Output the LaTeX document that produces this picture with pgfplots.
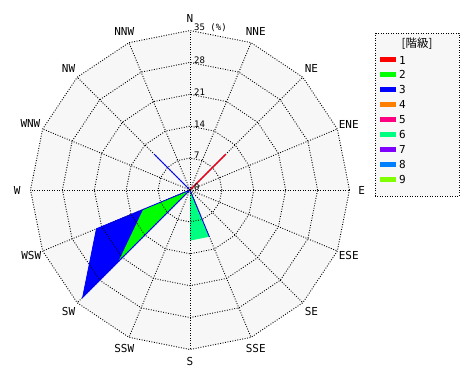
\documentclass[border=0pt]{standalone}
\usepackage{fontspec}
\setmainfont{DejaVu Sans Mono}
\newfontfamily\cjk{Noto Sans CJK JP}
\usepackage{pgfplots}
\usepackage{pgfplotstable}
\pgfplotsset{compat=1.18}
\usepgfplotslibrary{polar}
\usetikzlibrary{calc}
\definecolor{bg}{HTML}{F7F7F7}
\definecolor{c1}{HTML}{FF0000}
\definecolor{c2}{HTML}{00FF00}
\definecolor{c3}{HTML}{0000FF}
\definecolor{c4}{HTML}{FF8000}
\definecolor{c5}{HTML}{FF0080}
\definecolor{c6}{HTML}{00FF80}
\definecolor{c7}{HTML}{8000FF}
\definecolor{c8}{HTML}{0080FF}
\definecolor{c9}{HTML}{80FF00}
% cumulative frequency (%) per direction; angle in degrees (math convention)
% dir: N NNE NE ENE E ESE SE SSE S SSW SW WSW W WNW NW NNW
\pgfplotstableread{
angle  c1     c2     c3     c6
90     0      0      0      0
67.5   0      0      0      0
45     11.11  11.11  11.11  11.11
22.5   0      0      0      0
0      0      0      0      0
337.5  0      0      0      0
315    0      0      0      0
292.5  0      0      11.11  11.11
270    0      0      0      11.11
247.5  0      0      0      0
225    0      22.22  33.33  33.33
202.5  0      11.11  22.22  22.22
180    0      0      0      0
157.5  0      0      0      0
135    0      0      11.11  11.11
112.5  0      0      0      0
}\rose
\tikzset{gridline/.style={black, line width=0.9pt, dash pattern=on 0.9pt off 1.6pt},
  dirlab/.style={font=\fontsize{11}{11}\selectfont, inner sep=0pt},
  ticklab/.style={font=\fontsize{9}{9}\selectfont, inner sep=0pt, anchor=south west, xshift=4pt, yshift=-1pt}}
\begin{document}
\begin{tikzpicture}
\begin{polaraxis}[
  hide axis, scale only axis, width=319pt, height=319pt,
  xmin=0, xmax=360, ymin=0, ymax=35, clip=false]
\coordinate (C) at (axis cs:0,0);
% background
\fill[bg] (axis cs:0,35) -- (axis cs:22.5,35) -- (axis cs:45,35) -- (axis cs:67.5,35) -- (axis cs:90,35) -- (axis cs:112.5,35) -- (axis cs:135,35) -- (axis cs:157.5,35) -- (axis cs:180,35) -- (axis cs:202.5,35) -- (axis cs:225,35) -- (axis cs:247.5,35) -- (axis cs:270,35) -- (axis cs:292.5,35) -- (axis cs:315,35) -- (axis cs:337.5,35) -- cycle;
% fills, classes 9..1 (cumulative)
\addplot[draw=none, fill=c6] table[x=angle, y=c6] {\rose} -- cycle;
\addplot[draw=none, fill=c3] table[x=angle, y=c3] {\rose} -- cycle;
\addplot[draw=none, fill=c2] table[x=angle, y=c2] {\rose} -- cycle;
\addplot[draw=none, fill=c1] table[x=angle, y=c1] {\rose} -- cycle;
% grid rings
\pgfplotsinvokeforeach{7,14,21,28,35}{
\draw[gridline] (axis cs:0,#1) -- (axis cs:22.5,#1) -- (axis cs:45,#1) -- (axis cs:67.5,#1) -- (axis cs:90,#1) -- (axis cs:112.5,#1) -- (axis cs:135,#1) -- (axis cs:157.5,#1) -- (axis cs:180,#1) -- (axis cs:202.5,#1) -- (axis cs:225,#1) -- (axis cs:247.5,#1) -- (axis cs:270,#1) -- (axis cs:292.5,#1) -- (axis cs:315,#1) -- (axis cs:337.5,#1) -- cycle;
}
\pgfplotsinvokeforeach{0,22.5,45,67.5,90,112.5,135,157.5,180,202.5,225,247.5,270,292.5,315,337.5}{
\draw[gridline] (axis cs:0,0) -- (axis cs:#1,35);
}
% outlines on top
\addplot[draw=c3, line width=0.75pt] table[x=angle, y=c3] {\rose} -- cycle;
\addplot[draw=c1, line width=1.25pt] table[x=angle, y=c1] {\rose} -- cycle;
\fill[black] (axis cs:0,0) circle (1.5pt);
% direction labels
\node[dirlab] at (axis cs:90,37.7) {N};
\node[dirlab] at (axis cs:67.5,37.7) {NNE};
\node[dirlab] at (axis cs:45,37.7) {NE};
\node[dirlab] at (axis cs:22.5,37.7) {ENE};
\node[dirlab] at (axis cs:0,37.7) {E};
\node[dirlab] at (axis cs:337.5,37.7) {ESE};
\node[dirlab] at (axis cs:315,37.7) {SE};
\node[dirlab] at (axis cs:292.5,37.7) {SSE};
\node[dirlab] at (axis cs:270,37.7) {S};
\node[dirlab] at (axis cs:247.5,37.7) {SSW};
\node[dirlab] at (axis cs:225,37.7) {SW};
\node[dirlab] at (axis cs:202.5,37.7) {WSW};
\node[dirlab] at (axis cs:180,37.9) {W};
\node[dirlab] at (axis cs:157.5,37.9) {WNW};
\node[dirlab] at (axis cs:135,37.7) {NW};
\node[dirlab] at (axis cs:112.5,37.7) {NNW};
% radial tick labels
\node[ticklab] at (axis cs:90,0) {0};
\node[ticklab] at (axis cs:90,7) {7};
\node[ticklab] at (axis cs:90,14) {14};
\node[ticklab] at (axis cs:90,21) {21};
\node[ticklab] at (axis cs:90,28) {28};
\node[ticklab] at (axis cs:90,35) {35 (\%)};
\end{polaraxis}
% legend
\draw[gridline, fill=bg] ($(C)+(185pt,157pt)$) rectangle ($(C)+(269pt,-6pt)$);
\node[font=\cjk\fontsize{11.5}{11.5}\selectfont, inner sep=0pt] at ($(C)+(227pt,146pt)$) {[階級]};
\foreach \i in {1,...,9}{
  \pgfmathsetmacro\yy{130-14.9*(\i-1)}
  \draw[line width=5pt, color=c\i] ($(C)+(190pt,\yy pt)$) -- ++(16pt,0);
  \node[anchor=west, inner sep=0pt, font=\fontsize{11}{11}\selectfont] at ($(C)+(209pt,\yy pt)$) {\i};
}
\pgfresetboundingbox
\path[use as bounding box] ($(C)+(-190pt,190pt)$) rectangle ($(C)+(280pt,-190pt)$);
\end{tikzpicture}
\end{document}
